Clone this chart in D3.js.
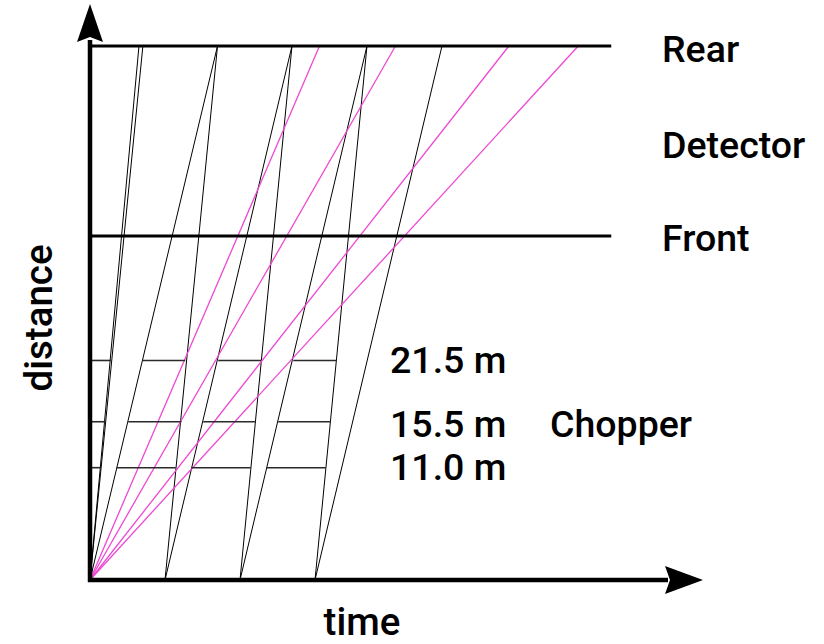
<!DOCTYPE html>
<html>
<head>
<meta charset="utf-8">
<script src="https://cdn.jsdelivr.net/npm/d3@7"></script>
<style>
  html, body { margin: 0; padding: 0; background: #fff; }
  svg { display: block; }
  text { font-family: Roboto, "Noto Sans", sans-serif; font-weight: 500; fill: #000; }
</style>
</head>
<body>
<svg id="chart" width="824" height="644"></svg>
<script>
// ---- data (time in source-pulse periods, distance in metres) ----
const rearDistance = 52.3;
const frontDistance = 33.7;
const detectorLabels = ["Rear", "Detector", "Front"];

// black frame-boundary lines: departure time at source, arrival time at rear detector
const lineDepart = [0, 0, 0, 1, 1, 2, 2, 3, 3];
const lineArrive = [0.653, 0.705, 1.70, 1.70, 2.693, 2.693, 3.693, 3.693, 4.693];

// magenta wavelength lines (all depart at t = 0)
const pinkArrive = [3.06, 4.073, 5.585, 6.51];

// choppers
const chopperDistance = [21.5, 15.5, 11.0];
const chopperLabels = ["21.5 m", "15.5 m", "11.0 m"];
const chopperClosedStart = [
  [0, 0.70, 1.71, 2.71],
  [0, 0.51, 1.51, 2.51],
  [0, 0.355, 1.347, 2.356]
];
const chopperClosedEnd = [
  [0.28, 1.27, 2.28, 3.28],
  [0.21, 1.22, 2.21, 3.21],
  [0.135, 1.143, 2.143, 3.143]
];
const detectorLineEnd = 6.95;

// ---- layout ----
const svg = d3.select("#chart");
const x = d3.scaleLinear().domain([0, 8]).range([90, 690]);
const y = d3.scaleLinear().domain([0, rearDistance]).range([580, 46]);
const line = d3.line().x(d => x(d[0])).y(d => y(d[1]));

// black frame lines
svg.append("g").selectAll("path")
  .data(lineDepart.map((t, i) => [[t, 0], [lineArrive[i], rearDistance]]))
  .join("path")
  .attr("d", line)
  .attr("fill", "none")
  .attr("stroke", "#000")
  .attr("stroke-width", 1);

// magenta lines
svg.append("g").selectAll("path")
  .data(pinkArrive.map(t => [[0, 0], [t, rearDistance]]))
  .join("path")
  .attr("d", line)
  .attr("fill", "none")
  .attr("stroke", "#ee48d4")
  .attr("stroke-width", 1.3);

// chopper closed segments
const segs = [];
chopperDistance.forEach((d, i) => {
  chopperClosedStart[i].forEach((s, j) => segs.push([[s, d], [chopperClosedEnd[i][j], d]]));
});
svg.append("g").selectAll("path")
  .data(segs)
  .join("path")
  .attr("d", line)
  .attr("fill", "none")
  .attr("stroke", "#2a2a2a")
  .attr("stroke-width", 1.6);

// detector lines (rear & front)
svg.append("g").selectAll("path")
  .data([rearDistance, frontDistance].map(d => [[0, d], [detectorLineEnd, d]]))
  .join("path")
  .attr("d", line)
  .attr("fill", "none")
  .attr("stroke", "#000")
  .attr("stroke-width", 3);

// axes with arrows
const x0 = x(0), y0 = y(0);
svg.append("path")
  .attr("d", `M${x0},${y0 + 2} L${x0},40`)
  .attr("stroke", "#000").attr("stroke-width", 4.5).attr("fill", "none");
svg.append("path")
  .attr("d", `M${x0 - 2},${y0} L668,${y0}`)
  .attr("stroke", "#000").attr("stroke-width", 4.5).attr("fill", "none");
svg.append("path")
  .attr("d", `M${x0},4 L${x0 + 13},42 L${x0},37 L${x0 - 13},42 Z`)
  .attr("fill", "#000");
svg.append("path")
  .attr("d", `M703,${y0} L665,${y0 + 14} L670,${y0} L665,${y0 - 14} Z`)
  .attr("fill", "#000");

// labels
const fs = 37.5;
svg.append("text").attr("x", 662).attr("y", 62).attr("font-size", fs).text(detectorLabels[0]);
svg.append("text").attr("x", 662).attr("y", 158).attr("font-size", fs).text(detectorLabels[1]);
svg.append("text").attr("x", 662).attr("y", 251).attr("font-size", fs).text(detectorLabels[2]);

const chopY = [373, 437, 480];
chopperLabels.forEach((l, i) => {
  svg.append("text").attr("x", 390).attr("y", chopY[i]).attr("font-size", fs).text(l);
});
svg.append("text").attr("x", 550).attr("y", 437).attr("font-size", fs).text("Chopper");

svg.append("text").attr("x", 362).attr("y", 635).attr("font-size", fs + 1)
  .attr("text-anchor", "middle").text("time");
svg.append("text").attr("transform", "translate(52,318) rotate(-90)")
  .attr("font-size", fs + 1).attr("text-anchor", "middle").text("distance");
</script>
</body>
</html>
